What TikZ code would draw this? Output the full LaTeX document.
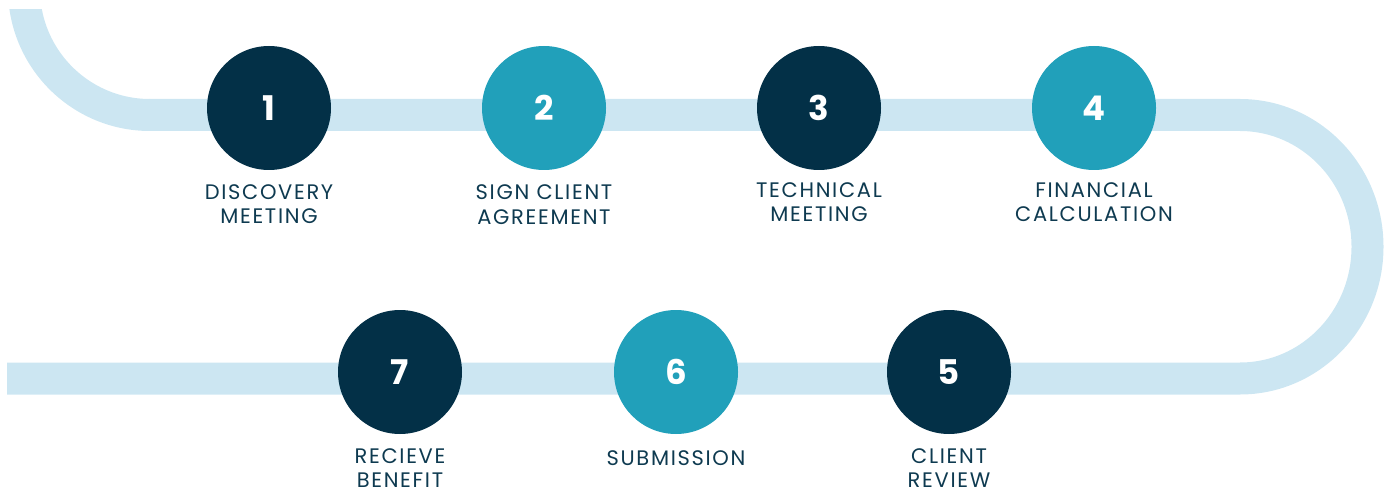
\documentclass[tikz,border=0pt]{standalone}
\usepackage{fontspec}
\setmainfont{Poppins}
\newfontfamily\labelfont[LetterSpace=8]{Poppins}
\definecolor{navy}{HTML}{033047}
\definecolor{teal}{HTML}{21A0BA}
\definecolor{band}{HTML}{CCE6F2}
\definecolor{txt}{HTML}{0E3A50}
\begin{document}
\begin{tikzpicture}[x=1pt,y=1pt,
  bandline/.style={draw=band,line width=32pt,line cap=butt},
  stepdark/.style={circle,fill=navy,minimum size=124pt,inner sep=0pt,text=white,font=\fontsize{34}{34}\selectfont\bfseries},
  steplight/.style={circle,fill=teal,minimum size=124pt,inner sep=0pt,text=white,font=\fontsize{34}{34}\selectfont\bfseries},
  steplabel/.style={align=center,text=txt,font=\labelfont\fontsize{21}{24.5}\selectfont,inner sep=0pt}]
\useasboundingbox (0,0) rectangle (1389,488);
\begin{scope}
\clip (0,0) rectangle (1389,478);
\draw[bandline] (150,373) ++(-126,126) arc[start angle=180,end angle=270,radius=126];
\end{scope}
\draw[bandline] (149.5,373) -- (1240,373)
  arc[start angle=90,end angle=-90,x radius=127.5,y radius=131.75]
  -- (7,109.5);
\node[stepdark]  (s1) at (269,380) {1};
\node[steplight] (s2) at (544,380) {2};
\node[stepdark]  (s3) at (819,380) {3};
\node[steplight] (s4) at (1094,380) {4};
\node[stepdark]  (s5) at (949,116) {5};
\node[steplight] (s6) at (676,116) {6};
\node[stepdark]  (s7) at (400,116) {7};
\node[steplabel] (l1) at (269,284) {DISCOVERY\\MEETING};
\node[steplabel] (l2) at (544,283.5) {SIGN CLIENT\\AGREEMENT};
\node[steplabel] (l3) at (819,286) {TECHNICAL\\MEETING};
\node[steplabel] (l4) at (1094,286) {FINANCIAL\\CALCULATION};
\node[steplabel] (l5) at (949,20) {CLIENT\\REVIEW};
\node[steplabel] (l6) at (676,30) {SUBMISSION};
\node[steplabel] (l7) at (400,20) {RECIEVE\\BENEFIT};
\end{tikzpicture}
\end{document}
